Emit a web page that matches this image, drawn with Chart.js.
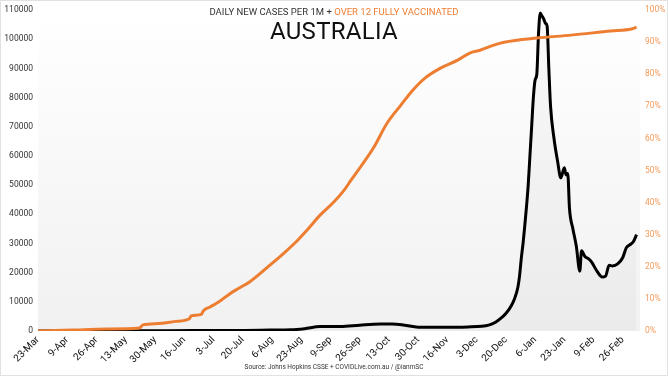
<!DOCTYPE html>
<html>
<head>
<meta charset="utf-8">
<script src="https://cdn.jsdelivr.net/npm/chart.js@4/dist/chart.umd.min.js"></script>
<style>
  html, body { margin: 0; padding: 0; background: #fff; }
  #wrap { position: relative; width: 668px; height: 376px; }
  #wrap canvas { position: absolute; left: 0; top: 0; }
  .txt { position: absolute; left: 0; width: 668px; text-align: center; font-family: Roboto, sans-serif; white-space: nowrap; }
  #sub { top: 7px; font-size: 9.5px; line-height: 9.5px; color: #333; }
  #sub span { color: #ED7D31; }
  #ttl { top: 19px; font-size: 24px; line-height: 24px; color: #111; letter-spacing: 0.3px; }
  #src { top: 364px; font-size: 6.5px; line-height: 6.5px; color: #333; }
</style>
</head>
<body>
<div id="wrap">
  <canvas id="CasesVax" width="668" height="376"></canvas>
  <div class="txt" id="sub">DAILY NEW CASES PER 1M + <span>OVER 12 FULLY VACCINATED</span></div>
  <div class="txt" id="ttl">AUSTRALIA</div>
  <div class="txt" id="src">Source: Johns Hopkins CSSE + COVIDLive.com.au / @ianmSC</div>
</div>
<script>
(function () {
  "use strict";

  // Tick labels, one every 17 days from 23-Mar
  const tickLabels = ['23-Mar', '9-Apr', '26-Apr', '13-May', '30-May', '16-Jun', '3-Jul', '20-Jul',
    '6-Aug', '23-Aug', '9-Sep', '26-Sep', '13-Oct', '30-Oct', '16-Nov', '3-Dec', '20-Dec',
    '6-Jan', '23-Jan', '9-Feb', '26-Feb'];
  const tickStep = 17;

  // Daily new cases per 1M (day offset from 23-Mar)
  const caseDays = [0, 30, 60, 90, 120, 135, 147, 155, 164, 176, 187, 199, 206, 213, 221, 234, 250,
    258, 262, 266, 269, 272, 275, 277, 279, 280, 281, 282, 283, 285, 286, 287, 288, 289, 290, 291,
    292, 293, 294, 295, 296, 297, 298, 300, 302, 304, 306, 307, 308, 309, 311, 313, 315, 316, 318,
    320, 322, 325, 328, 330, 332, 334, 337, 340, 342, 344, 346, 348];
  const cases = [0, 50, 100, 150, 200, 300, 400, 800, 1500, 1500, 2000, 2400, 2400, 2000, 1300, 1300, 1400,
    1600, 2000, 3000, 4300, 6000, 8500, 11000, 15000, 19000, 25000, 30000, 36000, 50000, 60000, 70000, 80000, 86000, 88000, 102000,
    109000, 108000, 107000, 105500, 104500, 90000, 77000, 66000, 58500, 52500, 56000, 53500, 54000, 42000, 35000, 29000, 20500, 27500, 25500,
    24800, 23500, 20500, 18500, 18800, 22500, 22300, 23000, 25200, 28500, 29500, 30500, 33000];

  // Over 12 fully vaccinated, %
  const vaxDays = [0, 20, 40, 59, 61, 70, 80, 88, 89, 95, 96, 100, 105, 112, 116, 123, 135, 143, 151,
    157, 164, 172, 178, 182, 188, 195, 203, 211, 218, 225, 234, 244, 251, 257, 265, 271, 290, 310,
    333, 345, 348];
  const vaxPct = [0, 0.3, 0.6, 0.9, 1.9, 2.3, 3.0, 3.8, 4.7, 5.2, 6.2, 7.5, 9.0, 11.8, 13.1, 15.3, 20.6, 24.3, 28.3,
    31.8, 36.1, 40.2, 43.9, 47.0, 51.5, 57.0, 64.8, 70.4, 75.1, 78.8, 81.9, 84.4, 86.6, 87.5, 89.1, 90.0, 91.3, 92.2,
    93.5, 94.1, 94.7];

  // Colors
  const orange      = '#ED7D31';
  const orangeLight = '#F19A5B';
  const text_dark   = '#333333';

  const toPoints = (xs, ys) => xs.map((d, i) => ({ x: d, y: ys[i] }));

  // Background: white canvas, light border, soft gradient in the plot
  const plotBackground = {
    id: 'plotBackground',
    beforeDraw(chart) {
      const { ctx, chartArea: a, width, height } = chart;
      ctx.save();
      ctx.fillStyle = '#ffffff';
      ctx.fillRect(0, 0, width, height);
      const g = ctx.createLinearGradient(0, a.top, 0, a.bottom);
      g.addColorStop(0, '#ffffff');
      g.addColorStop(1, '#f1f1f1');
      ctx.fillStyle = g;
      ctx.fillRect(a.left, a.top, a.right - a.left, a.bottom - a.top);
      ctx.strokeStyle = '#e2e2e2';
      ctx.lineWidth = 1;
      ctx.strokeRect(0.5, 0.5, width - 1, height - 1);
      ctx.restore();
    }
  };

  const ctx = document.getElementById('CasesVax').getContext('2d');
  new Chart(ctx, {
    type: 'line',
    data: {
      datasets: [{
        label: 'Over 12 fully vaccinated',
        data: toPoints(vaxDays, vaxPct),
        yAxisID: 'y1',
        borderColor: orange,
        borderWidth: 3,
        pointRadius: 0,
        cubicInterpolationMode: 'monotone',
        fill: false,
        order: 0
      },
      {
        label: 'Daily new cases per 1M',
        data: toPoints(caseDays, cases),
        yAxisID: 'y',
        borderColor: '#000000',
        borderWidth: 3,
        pointRadius: 0,
        cubicInterpolationMode: 'monotone',
        fill: { target: 'origin' },
        backgroundColor: 'rgba(0,0,0,0.025)',
        order: 1
      }]
    },
    options: {
      responsive: false,
      animation: false,
      layout: { padding: { top: 10, bottom: 14, left: 0, right: 0 } },
      plugins: {
        legend: { display: false },
        tooltip: { enabled: false }
      },
      scales: {
        x: {
          type: 'linear',
          min: 0,
          max: 350,
          grid: { display: false, drawTicks: false },
          border: { display: false },
          afterBuildTicks: (scale) => {
            scale.ticks = tickLabels.map((t, i) => ({ value: i * tickStep }));
          },
          afterFit: (scale) => { scale.height = 31; },
          ticks: {
            autoSkip: false,
            maxRotation: 45,
            minRotation: 45,
            padding: 3,
            color: '#111111',
            font: { family: 'Roboto', size: 10 },
            callback: (v) => tickLabels[Math.round(v / tickStep)]
          }
        },
        y: {
          position: 'left',
          min: 0,
          max: 110000,
          grid: { display: false, drawTicks: false },
          border: { display: false },
          afterFit: (scale) => { scale.width = 38; },
          ticks: {
            stepSize: 10000,
            padding: 5,
            color: text_dark,
            font: { family: 'Roboto', size: 8.5 },
            callback: (v) => String(v)
          }
        },
        y1: {
          position: 'right',
          min: 0,
          max: 100,
          grid: { display: false, drawTicks: false },
          border: { display: false },
          afterFit: (scale) => { scale.width = 28; },
          ticks: {
            stepSize: 10,
            padding: 5,
            color: orangeLight,
            font: { family: 'Roboto', size: 8.5 },
            callback: (v) => v + '%'
          }
        }
      }
    },
    plugins: [plotBackground]
  });
})();
</script>
</body>
</html>
